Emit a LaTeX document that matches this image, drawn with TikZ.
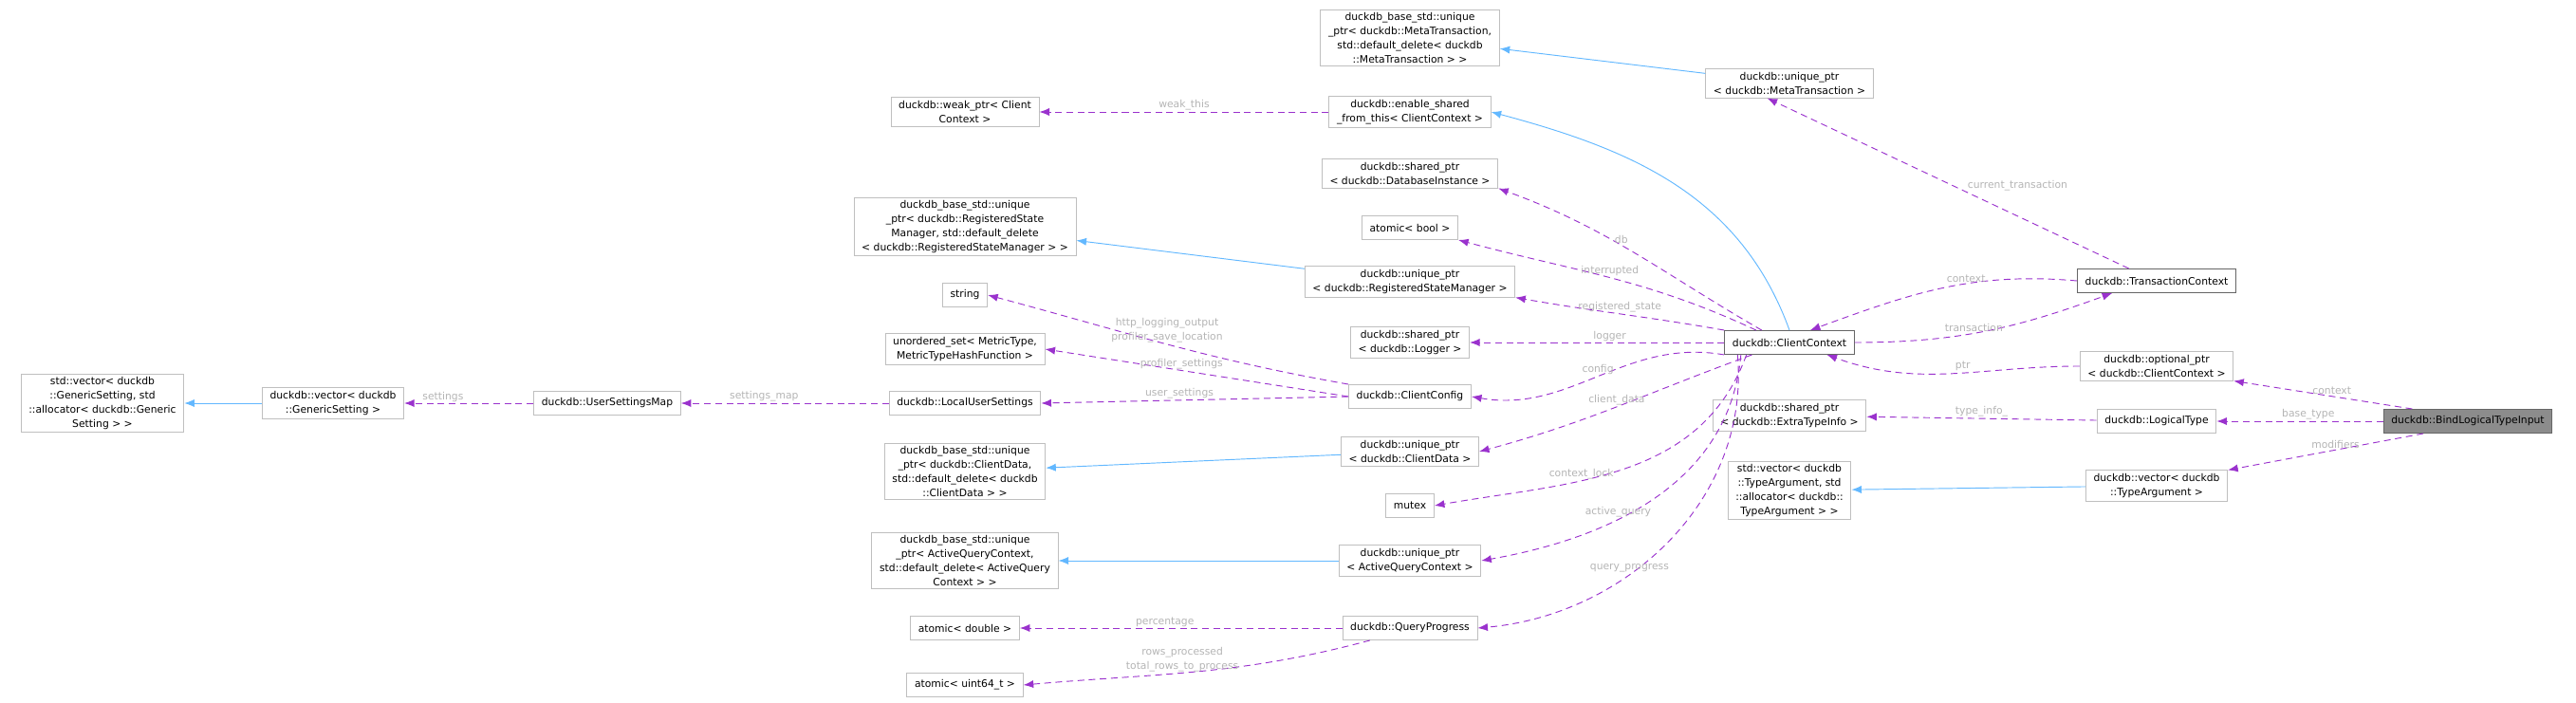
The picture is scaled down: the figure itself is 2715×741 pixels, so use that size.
\documentclass[tikz,border=0pt]{standalone}
\usepackage{fontspec}
\setmainfont{DejaVu Sans}
\usetikzlibrary{positioning,arrows.meta}
\definecolor{memcol}{HTML}{9A32CD}
\definecolor{inhcol}{HTML}{63B8FF}
\definecolor{lblcol}{HTML}{B4B4B4}
\definecolor{boxcol}{HTML}{BFBFBF}
\begin{document}
\begin{tikzpicture}[x=0.03cm,y=-0.03cm,font=\fontsize{9.2}{12.6}\selectfont,
  cls/.style={draw=boxcol,thick,align=center,inner xsep=7pt,inner ysep=3pt,minimum height=0.75cm,fill=white},
  main/.style={cls,draw=black!60},
  mem/.style={draw=memcol,thick,dashed,dash pattern=on 6pt off 4pt,-{Latex[length=9pt,width=7pt]}},
  inh/.style={draw=inhcol,thick,-{Latex[length=9pt,width=7pt]}},
  lbl/.style={text=lblcol,inner sep=1pt,align=center}]
  \useasboundingbox (0,0) rectangle (2715,741);
  % left columns
  \node[cls] (stdvecGS) at (108,425) {std::vector< duckdb\\::GenericSetting, std\\::allocator< duckdb::Generic\\Setting > >};
  \node[cls] (vecGS) at (351,425) {duckdb::vector< duckdb\\::GenericSetting >};
  \node[cls] (usmap) at (640,425) {duckdb::UserSettingsMap};
  \node[cls] (weakptr) at (1017,118) {duckdb::weak\_ptr< Client\\Context >};
  \node[cls] (rsmbase) at (1017,239) {duckdb\_base\_std::unique\\\_ptr< duckdb::RegisteredState\\Manager, std::default\_delete\\< duckdb::RegisteredStateManager > >};
  \node[cls] (string) at (1017,311) {string};
  \node[cls] (uset) at (1017,368) {unordered\_set< MetricType,\\MetricTypeHashFunction >};
  \node[cls] (lus) at (1017,425) {duckdb::LocalUserSettings};
  \node[cls] (cdbase) at (1017,497) {duckdb\_base\_std::unique\\\_ptr< duckdb::ClientData,\\std::default\_delete< duckdb\\::ClientData > >};
  \node[cls] (aqcbase) at (1017,591) {duckdb\_base\_std::unique\\\_ptr< ActiveQueryContext,\\std::default\_delete< ActiveQuery\\Context > >};
  \node[cls] (adouble) at (1017,662) {atomic< double >};
  \node[cls] (auint) at (1017,722) {atomic< uint64\_t >};
  % middle column
  \node[cls] (metabase) at (1486,40) {duckdb\_base\_std::unique\\\_ptr< duckdb::MetaTransaction,\\std::default\_delete< duckdb\\::MetaTransaction > >};
  \node[cls] (enable) at (1486,118) {duckdb::enable\_shared\\\_from\_this< ClientContext >};
  \node[cls] (dbptr) at (1486,183) {duckdb::shared\_ptr\\< duckdb::DatabaseInstance >};
  \node[cls] (abool) at (1486,240) {atomic< bool >};
  \node[cls] (rsmptr) at (1486,297) {duckdb::unique\_ptr\\< duckdb::RegisteredStateManager >};
  \node[cls] (logger) at (1486,361) {duckdb::shared\_ptr\\< duckdb::Logger >};
  \node[cls] (config) at (1486,418) {duckdb::ClientConfig};
  \node[cls] (cdptr) at (1486,476) {duckdb::unique\_ptr\\< duckdb::ClientData >};
  \node[cls] (mutex) at (1486,533) {mutex};
  \node[cls] (aqcptr) at (1486,591) {duckdb::unique\_ptr\\< ActiveQueryContext >};
  \node[cls] (qprog) at (1486,662) {duckdb::QueryProgress};
  % right columns
  \node[cls] (metaptr) at (1886,88) {duckdb::unique\_ptr\\< duckdb::MetaTransaction >};
  \node[main] (cc) at (1886,361) {duckdb::ClientContext};
  \node[cls] (extra) at (1886,438) {duckdb::shared\_ptr\\< duckdb::ExtraTypeInfo >};
  \node[cls] (stdvecTA) at (1886,517) {std::vector< duckdb\\::TypeArgument, std\\::allocator< duckdb::\\TypeArgument > >};
  \node[main] (tc) at (2273,296) {duckdb::TransactionContext};
  \node[cls] (optptr) at (2273,386) {duckdb::optional\_ptr\\< duckdb::ClientContext >};
  \node[cls] (ltype) at (2273,444) {duckdb::LogicalType};
  \node[cls] (vecTA) at (2273,512) {duckdb::vector< duckdb\\::TypeArgument >};
  \node[main,fill=black!45] (blti) at (2601,444) {duckdb::BindLogicalTypeInput};

  % inheritance
  \draw[inh] (vecGS) -- (stdvecGS);
  \draw[inh] (metaptr) -- (metabase);
  \draw[inh] (cc.north) to[out=110,in=-15] (enable.east);
  \draw[inh] (rsmptr) -- (rsmbase);
  \draw[inh] (cdptr) -- (cdbase);
  \draw[inh] (aqcptr) -- (aqcbase);
  \draw[inh] (vecTA) -- (stdvecTA);
  % members
  \draw[mem] (usmap) -- node[lbl,above,pos=.7]{settings} (vecGS);
  \draw[mem] (lus) -- node[lbl,above,pos=.6]{settings\_map} (usmap);
  \draw[mem] (enable) -- node[lbl,above]{weak\_this} (weakptr);
  \draw[mem] ([xshift=-25pt]tc.north) -- node[lbl,above right,pos=.45]{current\_transaction} ([xshift=-20pt]metaptr.south);
  \draw[mem] ([xshift=-25pt]cc.north) to[out=150,in=-20] node[lbl,above,pos=.55]{db} (dbptr.south east);
  \draw[mem] ([xshift=-30pt]cc.north) to[out=155,in=-15] node[lbl,above,pos=.5]{interrupted} (abool.south east);
  \draw[mem] (cc.north west) to[out=170,in=-10] node[lbl,above,pos=.5]{registered\_state} (rsmptr.south east);
  \draw[mem] (cc.west) -- node[lbl,above,pos=.45]{logger} (logger);
  \draw[mem] (cc.south west) to[out=170,in=-10] node[lbl,above,pos=.5]{config} (config.east);
  \draw[mem] ([xshift=25pt]cc.south west) to[out=-160,in=15] node[lbl,above,pos=.5]{client\_data} (cdptr.east);
  \draw[mem] ([xshift=20pt]cc.south west) to[out=-110,in=10] node[lbl,above,pos=.62]{context\_lock} (mutex.east);
  \draw[mem] ([xshift=15pt]cc.south west) to[out=-95,in=10] node[lbl,above,pos=.62]{active\_query} (aqcptr.east);
  \draw[mem] ([xshift=12pt]cc.south west) to[out=-85,in=5] node[lbl,above,pos=.62]{query\_progress} (qprog.east);
  \draw[mem] (config.north west) to[out=170,in=-15] node[lbl,above,pos=.5]{http\_logging\_output\\profiler\_save\_location} (string.east);
  \draw[mem] (config.west) -- node[lbl,above,pos=.55]{profiler\_settings} (uset.east);
  \draw[mem] (config.west) -- node[lbl,above,pos=.55]{user\_settings} (lus.east);
  \draw[mem] (qprog) -- node[lbl,above,pos=.55]{percentage} (adouble);
  \draw[mem] ([xshift=25pt]qprog.south west) to[out=-165,in=5] node[lbl,above,pos=.55]{rows\_processed\\total\_rows\_to\_process} (auint.east);
  \draw[mem] (tc.west) to[out=175,in=20] node[lbl,above,pos=.4]{context} ([xshift=-40pt]cc.north east);
  \draw[mem] (cc.east) to[out=0,in=-160] node[lbl,above,pos=.45]{transaction} ([xshift=-40pt]tc.south);
  \draw[mem] (optptr.west) to[out=180,in=-20] node[lbl,above,pos=.45]{ptr} ([xshift=-25pt]cc.south east);
  \draw[mem] ([xshift=-50pt]blti.north) -- node[lbl,above,pos=.45]{context} (optptr.south east);
  \draw[mem] (blti) -- node[lbl,above,pos=.45]{base\_type} (ltype);
  \draw[mem] ([xshift=-40pt]blti.south) -- node[lbl,above,pos=.45]{modifiers} (vecTA.north east);
  \draw[mem] (ltype) -- node[lbl,above,pos=.5]{type\_info\_} (extra);
\end{tikzpicture}
\end{document}
